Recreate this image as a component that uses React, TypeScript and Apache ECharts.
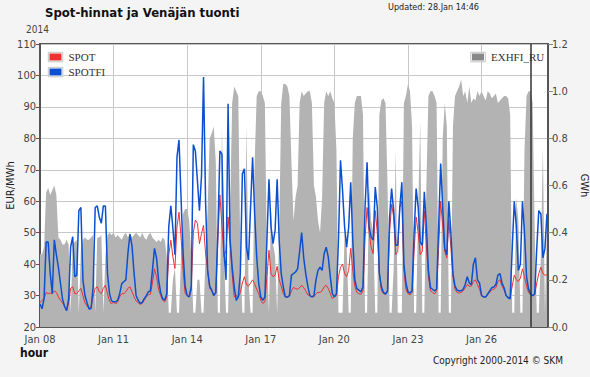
import React, { useEffect, useRef } from "react";
import * as echarts from "echarts";

// Hour-of-period tick labels (every 72 h from Jan 08 00:00)
const tickLabels = ["Jan 08", "Jan 11", "Jan 14", "Jan 17", "Jan 20", "Jan 23", "Jan 26"];
const STEP_HOURS = 2;
const NOW_HOUR = 480; // Jan 28 00:00

// SPOTFI EUR/MWh, 2-hourly values, one row per day Jan 08 .. Jan 28
const spotfi = [
  27.3, 25.8, 29, 47, 47, 37, 30.6, 47.7, 43, 39, 34, 28.9,
  26.6, 25.2, 28.9, 45.5, 48.7, 36, 36.5, 57, 58, 35, 30, 27.7,
  25.7, 25.9, 32.8, 58, 58.5, 55, 53, 58.5, 58.5, 37, 30.7, 28.3,
  28, 28, 28.5, 30.7, 33.8, 34.4, 35, 43.4, 49.5, 45.8, 37.3, 30,
  28.5, 27.5, 27.8, 29, 30, 31.2, 31.5, 38, 45, 42, 35, 31,
  29, 28.5, 30.6, 52, 58.5, 51.5, 43, 74, 79.5, 61, 43.5, 33,
  30, 29.6, 33, 78, 76, 66.5, 57, 68, 99.5, 60, 38, 33,
  31.7, 30, 31, 50, 76, 75, 44, 35, 91, 47.6, 39, 32.8,
  28.5, 29.6, 37, 68.7, 70.3, 45.5, 41.3, 58, 74, 56, 42.3, 33.8,
  29.6, 28.5, 29.6, 47.6, 67, 51.8, 46.5, 50.7, 67, 47.6, 37, 32.8,
  29.6, 29.5, 30, 36.5, 37, 37.5, 38.5, 44, 50, 42, 37, 33,
  30, 29.6, 30, 35, 38, 39, 38, 43.3, 45.4, 42.3, 36, 30.6,
  29.6, 30.6, 47.6, 73, 63.4, 51.8, 45.4, 51.8, 66, 47.6, 35, 32.2,
  31.7, 31.2, 32.8, 58, 72.4, 51.8, 48.6, 47.6, 64.5, 58, 37, 32.8,
  31, 30.5, 31.5, 55, 64, 57, 46, 46, 58, 66, 40, 34,
  31.2, 30.8, 31.5, 50, 64, 58, 47, 46, 63, 52, 38, 32.5,
  32, 31.5, 32, 52, 72, 58, 45, 43, 60, 50, 37, 33,
  31.7, 31.5, 31.5, 32, 33.5, 36, 34, 33.5, 40, 42, 35, 34,
  30, 29.6, 29.5, 30.5, 31.5, 32.5, 32.7, 33.5, 36.5, 37, 34, 32.5,
  30, 29.3, 29, 45, 60, 52, 38, 40, 60, 50, 36, 32,
  30.5, 30, 30.5, 45, 57, 56, 42, 45, 56,
];

// SPOT EUR/MWh
const spot = [
  27.7, 28.5, 29, 31, 30.6, 30.8, 30.6, 31.5, 31, 29.6, 28.5, 27.7,
  26.6, 25.2, 27.7, 32.3, 32.8, 30.6, 30.6, 31.5, 32.3, 30, 27.7, 26.6,
  26, 26.6, 29.6, 32.3, 32.8, 31.2, 30.6, 32.3, 33.3, 30.6, 28.3, 27.3,
  28, 27.3, 28, 29.6, 30.6, 30.6, 31.2, 32.3, 32.8, 31.2, 29.6, 28.3,
  27.7, 27.2, 27.5, 28.5, 29.6, 30.2, 30.4, 34, 38.5, 36, 32, 30,
  28.5, 28, 29.6, 43, 47.6, 42.3, 38.6, 51.8, 56.5, 48.6, 38, 30.6,
  30.1, 29.6, 31.7, 50, 54, 53, 46.5, 49.7, 52.3, 43.3, 38, 32.2,
  31.7, 30, 31, 47.6, 62, 52, 42.3, 44.4, 55, 46.5, 37, 29.6,
  30, 29.6, 31, 34, 36, 33.5, 33, 34, 35, 33.8, 32, 30.6,
  28.5, 27.5, 28, 36, 44.4, 37, 36, 36.5, 39.3, 35, 33, 30.6,
  29.6, 29.5, 29.8, 31.5, 32.6, 32.2, 32, 32.5, 33.3, 32.5, 31.5, 30.2,
  30, 29.6, 29.6, 30.6, 31, 31, 31.5, 32.8, 33.3, 32.3, 30.6, 29,
  29.6, 30, 36, 39, 40, 37, 36, 38, 45, 38, 33, 31,
  30.6, 30.4, 31.5, 48, 58, 50, 45.4, 43.3, 57, 50, 37, 31.7,
  30.6, 30.4, 31, 50, 59, 55, 43, 44, 58, 60, 38, 32,
  30.6, 30.2, 31, 44, 55, 50, 43, 44, 57, 46, 36, 31.5,
  31, 30.5, 31.5, 45, 60, 52, 44, 42, 54, 45, 36, 32,
  31, 30.8, 31, 31.5, 32.5, 33.5, 33, 33, 34.5, 35, 33.5, 32,
  30, 29.6, 29.5, 30.3, 31, 31.8, 32, 32.5, 34.5, 35, 33, 31.8,
  30, 29.5, 29.3, 33, 36.5, 35, 34.5, 35.5, 38.5, 36, 33, 31,
  30.2, 30, 30.3, 34, 37, 39, 37, 36.5, 36.5,
];

// EXHFI_RU GWh
const exhfiRu = [
  0.31, 0.31, 0.34, 0.57, 0.59, 0.56, 0.58, 0.6, 0.56, 0.38, 0.37, 0.35,
  0.35, 0.37, 0.35, 0.06, 0.35, 0.36, 0.37, 0.06, 0.33, 0.37, 0.38, 0.37,
  0.37, 0.38, 0.39, 0.06, 0.38, 0.38, 0.39, 0.06, 0.3, 0.39, 0.4, 0.39,
  0.4, 0.38, 0.39, 0.38, 0.37, 0.39, 0.4, 0.38, 0.4, 0.38, 0.39, 0.4,
  0.39, 0.38, 0.4, 0.38, 0.37, 0.39, 0.4, 0.38, 0.37, 0.36, 0.37, 0.36,
  0.38, 0.37, 0.3, 0.06, 0.06, 0.2, 0.25, 0.06, 0.06, 0.3, 0.48, 0.5,
  0.5, 0.45, 0.3, 0.06, 0.06, 0.2, 0.2, 0.06, 0.06, 0.3, 0.5, 0.8,
  0.82, 0.85, 0.7, 0.06, 0.06, 0.85, 0.3, 0.06, 0.06, 0.5, 0.95, 1.02,
  1.0, 0.98, 0.3, 0.06, 0.06, 0.86, 0.2, 0.06, 0.06, 0.7, 0.98, 1.0,
  1.0, 0.98, 0.95, 0.3, 0.06, 0.5, 0.35, 0.3, 0.06, 0.4, 0.95, 1.03,
  1.03, 1.02, 0.98, 0.7, 0.45, 0.55, 0.6, 0.95, 1.0, 0.98, 0.99, 1.0,
  1.0, 0.95, 0.6, 0.55, 0.45, 0.4, 0.55, 0.95, 1.0, 0.98, 1.0, 0.97,
  0.95, 0.75, 0.06, 0.06, 0.06, 0.4, 0.35, 0.06, 0.06, 0.8, 0.95, 0.98,
  0.98, 0.98, 0.9, 0.06, 0.06, 0.6, 0.45, 0.4, 0.06, 0.06, 0.9, 0.96,
  0.97, 0.95, 0.6, 0.06, 0.06, 0.25, 0.75, 0.06, 0.06, 0.06, 0.95, 0.98,
  1.03, 1.0, 0.85, 0.06, 0.06, 0.5, 0.87, 0.06, 0.06, 0.6, 0.98, 1.0,
  1.0, 0.98, 0.95, 0.06, 0.06, 0.8, 0.95, 0.85, 0.06, 0.06, 0.85, 0.98,
  1.0, 1.02, 1.05, 0.98, 1.0, 0.95, 1.02, 0.95, 0.97, 0.96, 1.0, 0.98,
  1.0, 0.98, 0.96, 1.0, 0.99, 0.97, 0.98, 0.99, 0.95, 0.96, 0.97, 0.98,
  0.98, 0.97, 0.9, 0.06, 0.06, 0.55, 0.45, 0.06, 0.06, 0.75, 0.98, 1.0,
  1.0, 0.95, 0.4, 0.06, 0.06, 0.3, 0.76, 0.06, 0.45,
];

const toPairs = (arr: number[]) => arr.map((v, i) => [i * STEP_HOURS, v]);

const SANS = '"DejaVu Sans Condensed", "Liberation Sans", sans-serif';
const SERIF = '"Liberation Serif", "DejaVu Serif", serif';

const legendText = { fontFamily: SERIF, fontSize: 11, color: "#333", lineHeight: 12, padding: [0, 0, 0, 2] };
const frame = (x: number, y: number) => ({
  type: "rect", z: 3, silent: true,
  shape: { x, y, width: 14.5, height: 9.5 },
  style: { fill: "#ffffff", stroke: "#c4c4c4", lineWidth: 1 },
});

export default function App() {
  const ref = useRef<HTMLDivElement>(null);
  useEffect(() => {
    if (!ref.current) return;
    const chart = echarts.init(ref.current, undefined, { renderer: "svg" });
    chart.setOption({
      animation: false,
      backgroundColor: "#f4f4f4",
      textStyle: { fontFamily: SANS },
      grid: {
        left: 40, right: 42, top: 44, bottom: 50,
        outerBoundsMode: "none", containLabel: false,
        show: true, backgroundColor: "#ffffff", borderColor: "#555555", borderWidth: 2,
      },
      legend: [
        {
          data: ["SPOT", "SPOTFI"], orient: "vertical", left: 49.5, top: 51, padding: 0, z: 5,
          icon: "rect", itemWidth: 12, itemHeight: 7, itemGap: 3, selectedMode: false,
          itemStyle: { borderWidth: 0 },
          textStyle: legendText,
        },
        {
          data: ["EXHFI_RU"], orient: "vertical", left: 472, top: 51, padding: 0, z: 5,
          icon: "rect", itemWidth: 12, itemHeight: 7, selectedMode: false,
          itemStyle: { borderWidth: 0 },
          textStyle: legendText,
        },
      ],
      xAxis: {
        type: "value", min: 0, max: 497, interval: 72,
        axisLine: { show: true, lineStyle: { color: "#555", width: 2 } },
        axisTick: { show: false },
        axisLabel: {
          color: "#444", fontSize: 11, margin: 7, fontFamily: SANS,
          formatter: (v: number) => (v % 72 === 0 ? tickLabels[v / 72] ?? "" : ""),
        },
        splitLine: { show: true, lineStyle: { color: "#c8c8c8", width: 1 } },
      },
      yAxis: [
        {
          type: "value", min: 20, max: 110, interval: 10, position: "left",
          name: "EUR/MWh", nameLocation: "middle", nameGap: 24, nameMoveOverlap: false,
          nameTextStyle: { color: "#222", fontSize: 11, fontFamily: SANS },
          axisLine: { show: true, lineStyle: { color: "#555", width: 2 } },
          axisTick: { show: true, length: 4, lineStyle: { color: "#555" } },
          axisLabel: { color: "#444", fontSize: 11, margin: 4, fontFamily: SANS },
          splitLine: { show: true, lineStyle: { color: "#c8c8c8", width: 1 } },
        },
        {
          type: "value", min: 0, max: 1.2, interval: 0.2, position: "right",
          name: "GWh", nameLocation: "middle", nameGap: 30, nameRotate: -90,
          nameTextStyle: { color: "#222", fontSize: 11, fontFamily: SANS },
          axisLine: { show: true, lineStyle: { color: "#555", width: 2 } },
          axisTick: { show: true, length: 5, lineStyle: { color: "#888" } },
          axisLabel: { color: "#444", fontSize: 11, margin: 4, fontFamily: SANS, formatter: (v: number) => v.toFixed(1) },
          splitLine: { show: false },
        },
      ],
      graphic: [
        { type: "text", left: 45, top: 6, style: { text: "Spot-hinnat ja Venäjän tuonti", font: `bold 13px ${SANS}`, fill: "#111" } },
        { type: "text", left: 388, top: 2, style: { text: "Updated: 28.Jan 14:46", font: `9px ${SANS}`, fill: "#222" } },
        { type: "text", left: 26, top: 24, style: { text: "2014", font: `10px ${SANS}`, fill: "#444" } },
        { type: "text", left: 20, top: 347, style: { text: "hour", font: `bold 12px ${SANS}`, fill: "#111" } },
        { type: "text", left: 433, top: 355, style: { text: "Copyright 2000-2014 © SKM", font: `10px ${SANS}`, fill: "#222" } },
        frame(48.3, 52.3),
        frame(48.3, 67.3),
        frame(470.8, 52.3),
      ],
      series: [
        {
          name: "EXHFI_RU", type: "line", yAxisIndex: 1, data: toPairs(exhfiRu),
          showSymbol: false, symbol: "none", itemStyle: { color: "#888888" },
          lineStyle: { width: 0, color: "#b3b3b3" }, areaStyle: { color: "#b3b3b3", opacity: 1 },
          z: 1,
        },
        {
          name: "SPOT", type: "line", yAxisIndex: 0, data: toPairs(spot),
          showSymbol: false, symbol: "none", itemStyle: { color: "#ee3030" },
          lineStyle: { width: 1, color: "#ee3030" }, z: 2,
        },
        {
          name: "SPOTFI", type: "line", yAxisIndex: 0, data: toPairs(spotfi),
          showSymbol: false, symbol: "none", itemStyle: { color: "#0b50d0" },
          lineStyle: { width: 1.5, color: "#0b50d0" }, z: 3,
          markLine: {
            silent: true, symbol: "none", label: { show: false },
            lineStyle: { color: "#333", width: 1.5, type: "solid" },
            data: [{ xAxis: NOW_HOUR }],
          },
        },
      ],
    });
    return () => chart.dispose();
  }, []);
  return <div ref={ref} style={{ position: "fixed", left: 0, top: 0, width: 590, height: 377 }} />;
}
